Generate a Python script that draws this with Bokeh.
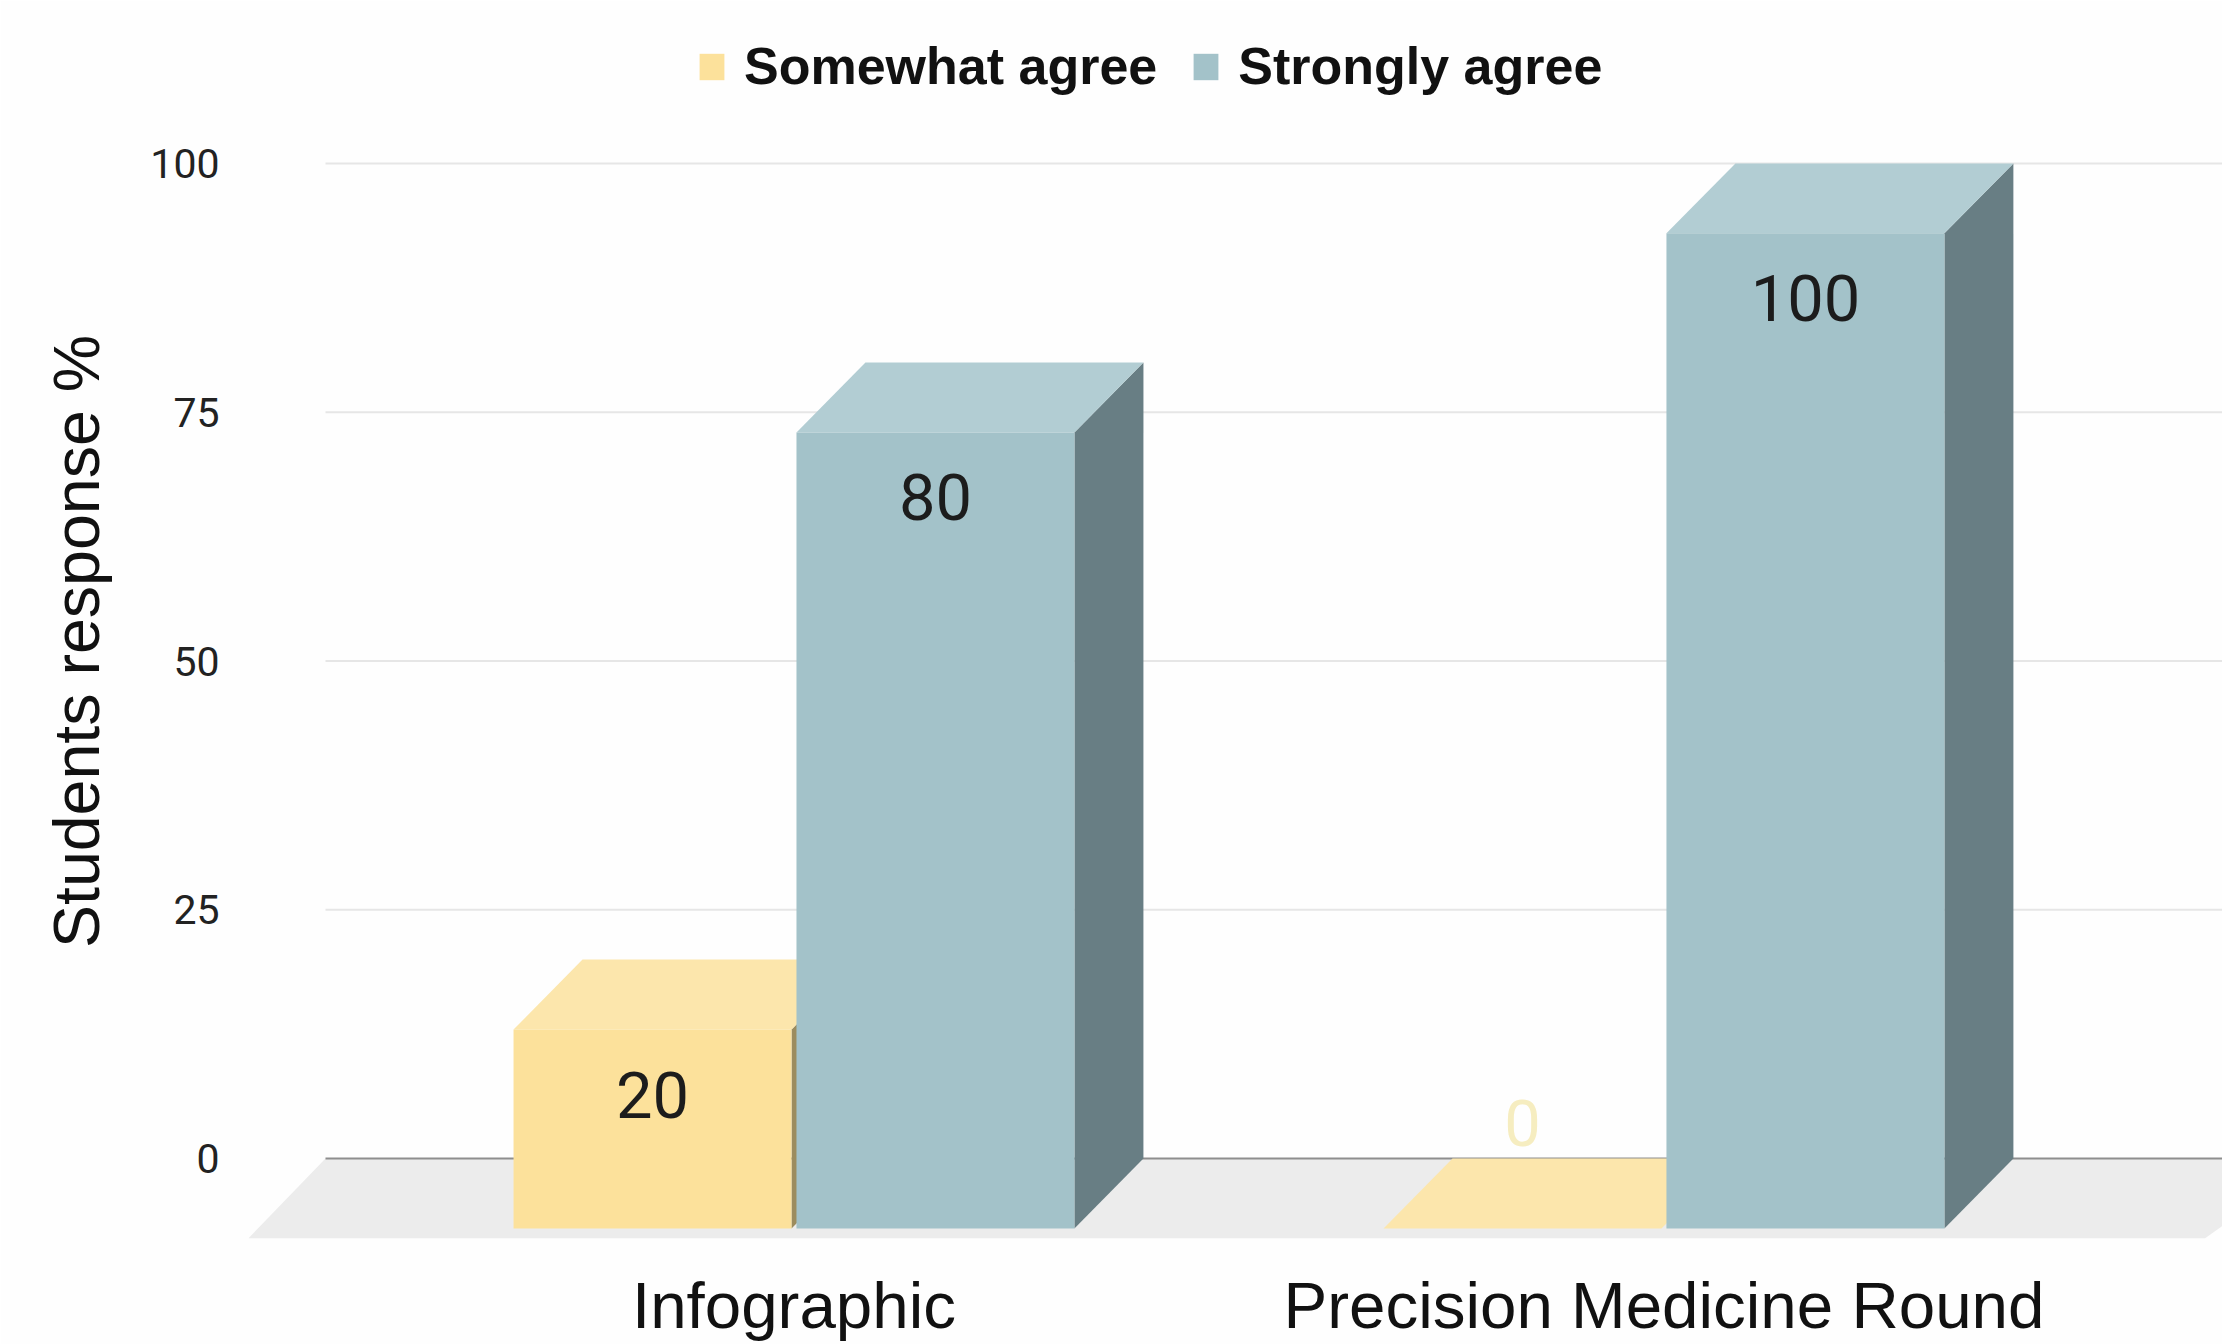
from bokeh.embed import file_html
from bokeh.resources import INLINE
from bokeh.plotting import figure
from bokeh.models import FixedTicker, Legend, LegendItem, Range1d
from bokeh.core.properties import value

categories = ["Infographic", "Precision Medicine Round"]
somewhat_agree = [20, 0]
strongly_agree = [80, 100]
y_ticks = [0, 25, 50, 75, 100]

YELLOW = {"front": "#FCE19B", "top": "#FCE6AC", "side": "#9C8C5E"}
BLUE = {"front": "#A3C2C9", "top": "#B2CDD3", "side": "#687E84"}

BAR_W = 0.3195      # front face width, in group spacings
GAP = 0.0057        # space between the two bars of a group
DEPTH_X = 0.0793    # extrusion to the back plane, horizontally
DEPTH_Y = 7.03      # extrusion to the back plane, in percentage points


def faces(left, val):
    """Front, top and side outlines of one extruded bar."""
    right = left + BAR_W
    low, high = -DEPTH_Y, val - DEPTH_Y
    front = ([left, right, right, left], [low, low, high, high])
    top = ([left, left + DEPTH_X, right + DEPTH_X, right], [high, val, val, high])
    side = ([right, right + DEPTH_X, right + DEPTH_X, right], [low, low + DEPTH_Y, val, high])
    return front, top, side


def draw_series(fig, lefts, vals, colours):
    parts = [faces(l, v) for l, v in zip(lefts, vals)]
    renderers = {}
    for i, name in [(2, "side"), (1, "top"), (0, "front")]:
        renderers[name] = fig.patches(
            [part[i][0] for part in parts],
            [part[i][1] for part in parts],
            fill_color=colours[name],
            line_color=None,
        )
    return renderers


p = figure(
    width=2222,
    height=1344,
    output_backend="svg",
    toolbar_location=None,
    x_range=Range1d(-0.6523, 1.642),
    y_range=Range1d(-8.83, 112.75),
    min_border_left=226,
    min_border_right=0,
    min_border_top=36,
    min_border_bottom=88,
    outline_line_color=None,
    background_fill_color="#FEFEFE",
    border_fill_color="#FEFEFE",
)
p.grid.visible = False

# Horizontal rules start at the back plane; the zero line is darker
rule_x0, rule_x1 = -0.5385, 1.75
p.segment(
    [rule_x0] * 4, y_ticks[1:], [rule_x1] * 4, y_ticks[1:],
    line_color="#E6E6E6", line_width=2,
)

# Floor of the chart
p.patch(
    [rule_x0, rule_x1, 1.622, -0.627],
    [0, 0, -8.0, -8.0],
    fill_color="#ECECEC",
    line_color=None,
)
p.segment([rule_x0], [0], [rule_x1], [0], line_color="#8E8E8E", line_width=2)

groups = list(range(len(categories)))
yellow = draw_series(p, [g - GAP / 2 - BAR_W for g in groups], somewhat_agree, YELLOW)
blue = draw_series(p, [g + GAP / 2 for g in groups], strongly_agree, BLUE)

# Value labels sit inside the front face, except a zero which floats above the floor
label_font = value("Roboto")
for g, v in zip(groups, somewhat_agree):
    p.text(
        [g - GAP / 2 - BAR_W / 2], [v - DEPTH_Y], text=[str(v)],
        y_offset=65 if v else -106,
        text_align="center", text_baseline="middle",
        text_font=label_font, text_font_size="65px",
        text_color="#1C1C1C" if v else "#F6EDC0",
    )
for g, v in zip(groups, strongly_agree):
    p.text(
        [g + GAP / 2 + BAR_W / 2], [v - DEPTH_Y], text=[str(v)],
        y_offset=65,
        text_align="center", text_baseline="middle",
        text_font=label_font, text_font_size="65px",
        text_color="#1C1C1C",
    )

p.yaxis.ticker = FixedTicker(ticks=y_ticks)
p.yaxis.axis_line_color = None
p.yaxis.major_tick_line_color = None
p.yaxis.minor_tick_line_color = None
p.yaxis.major_label_standoff = 1
p.yaxis.major_label_text_font = "Roboto"
p.yaxis.major_label_text_font_size = "41px"
p.yaxis.major_label_text_color = "#222222"
p.yaxis.axis_label = "Students response %"
p.yaxis.axis_label_text_font = "Liberation Sans"
p.yaxis.axis_label_text_font_style = "normal"
p.yaxis.axis_label_text_font_size = "64.5px"
p.yaxis.axis_label_text_color = "#111111"
p.yaxis.axis_label_standoff = 34

p.xaxis.ticker = FixedTicker(ticks=groups)
p.xaxis.major_label_overrides = dict(zip(groups, categories))
p.xaxis.axis_line_color = None
p.xaxis.major_tick_line_color = None
p.xaxis.minor_tick_line_color = None
p.xaxis.major_label_standoff = 16
p.xaxis.major_label_text_baseline = "hanging"
p.xaxis.major_label_text_font = "Liberation Sans"
p.xaxis.major_label_text_font_size = "65.5px"
p.xaxis.major_label_text_color = "#111111"

legend = Legend(
    items=[
        LegendItem(label="Somewhat agree", renderers=[yellow["front"]]),
        LegendItem(label="Strongly agree", renderers=[blue["front"]]),
    ],
    orientation="horizontal",
    location=(470, 1150),
    background_fill_alpha=0,
    border_line_color=None,
    padding=0,
    margin=0,
    spacing=33,
    label_standoff=17,
    glyph_width=31,
    glyph_height=33,
    label_text_font="Liberation Sans",
    label_text_font_style="bold",
    label_text_font_size="52px",
    label_text_color="#111111",
)
p.add_layout(legend, "center")

open("out.html", "w").write(file_html(p, INLINE))
